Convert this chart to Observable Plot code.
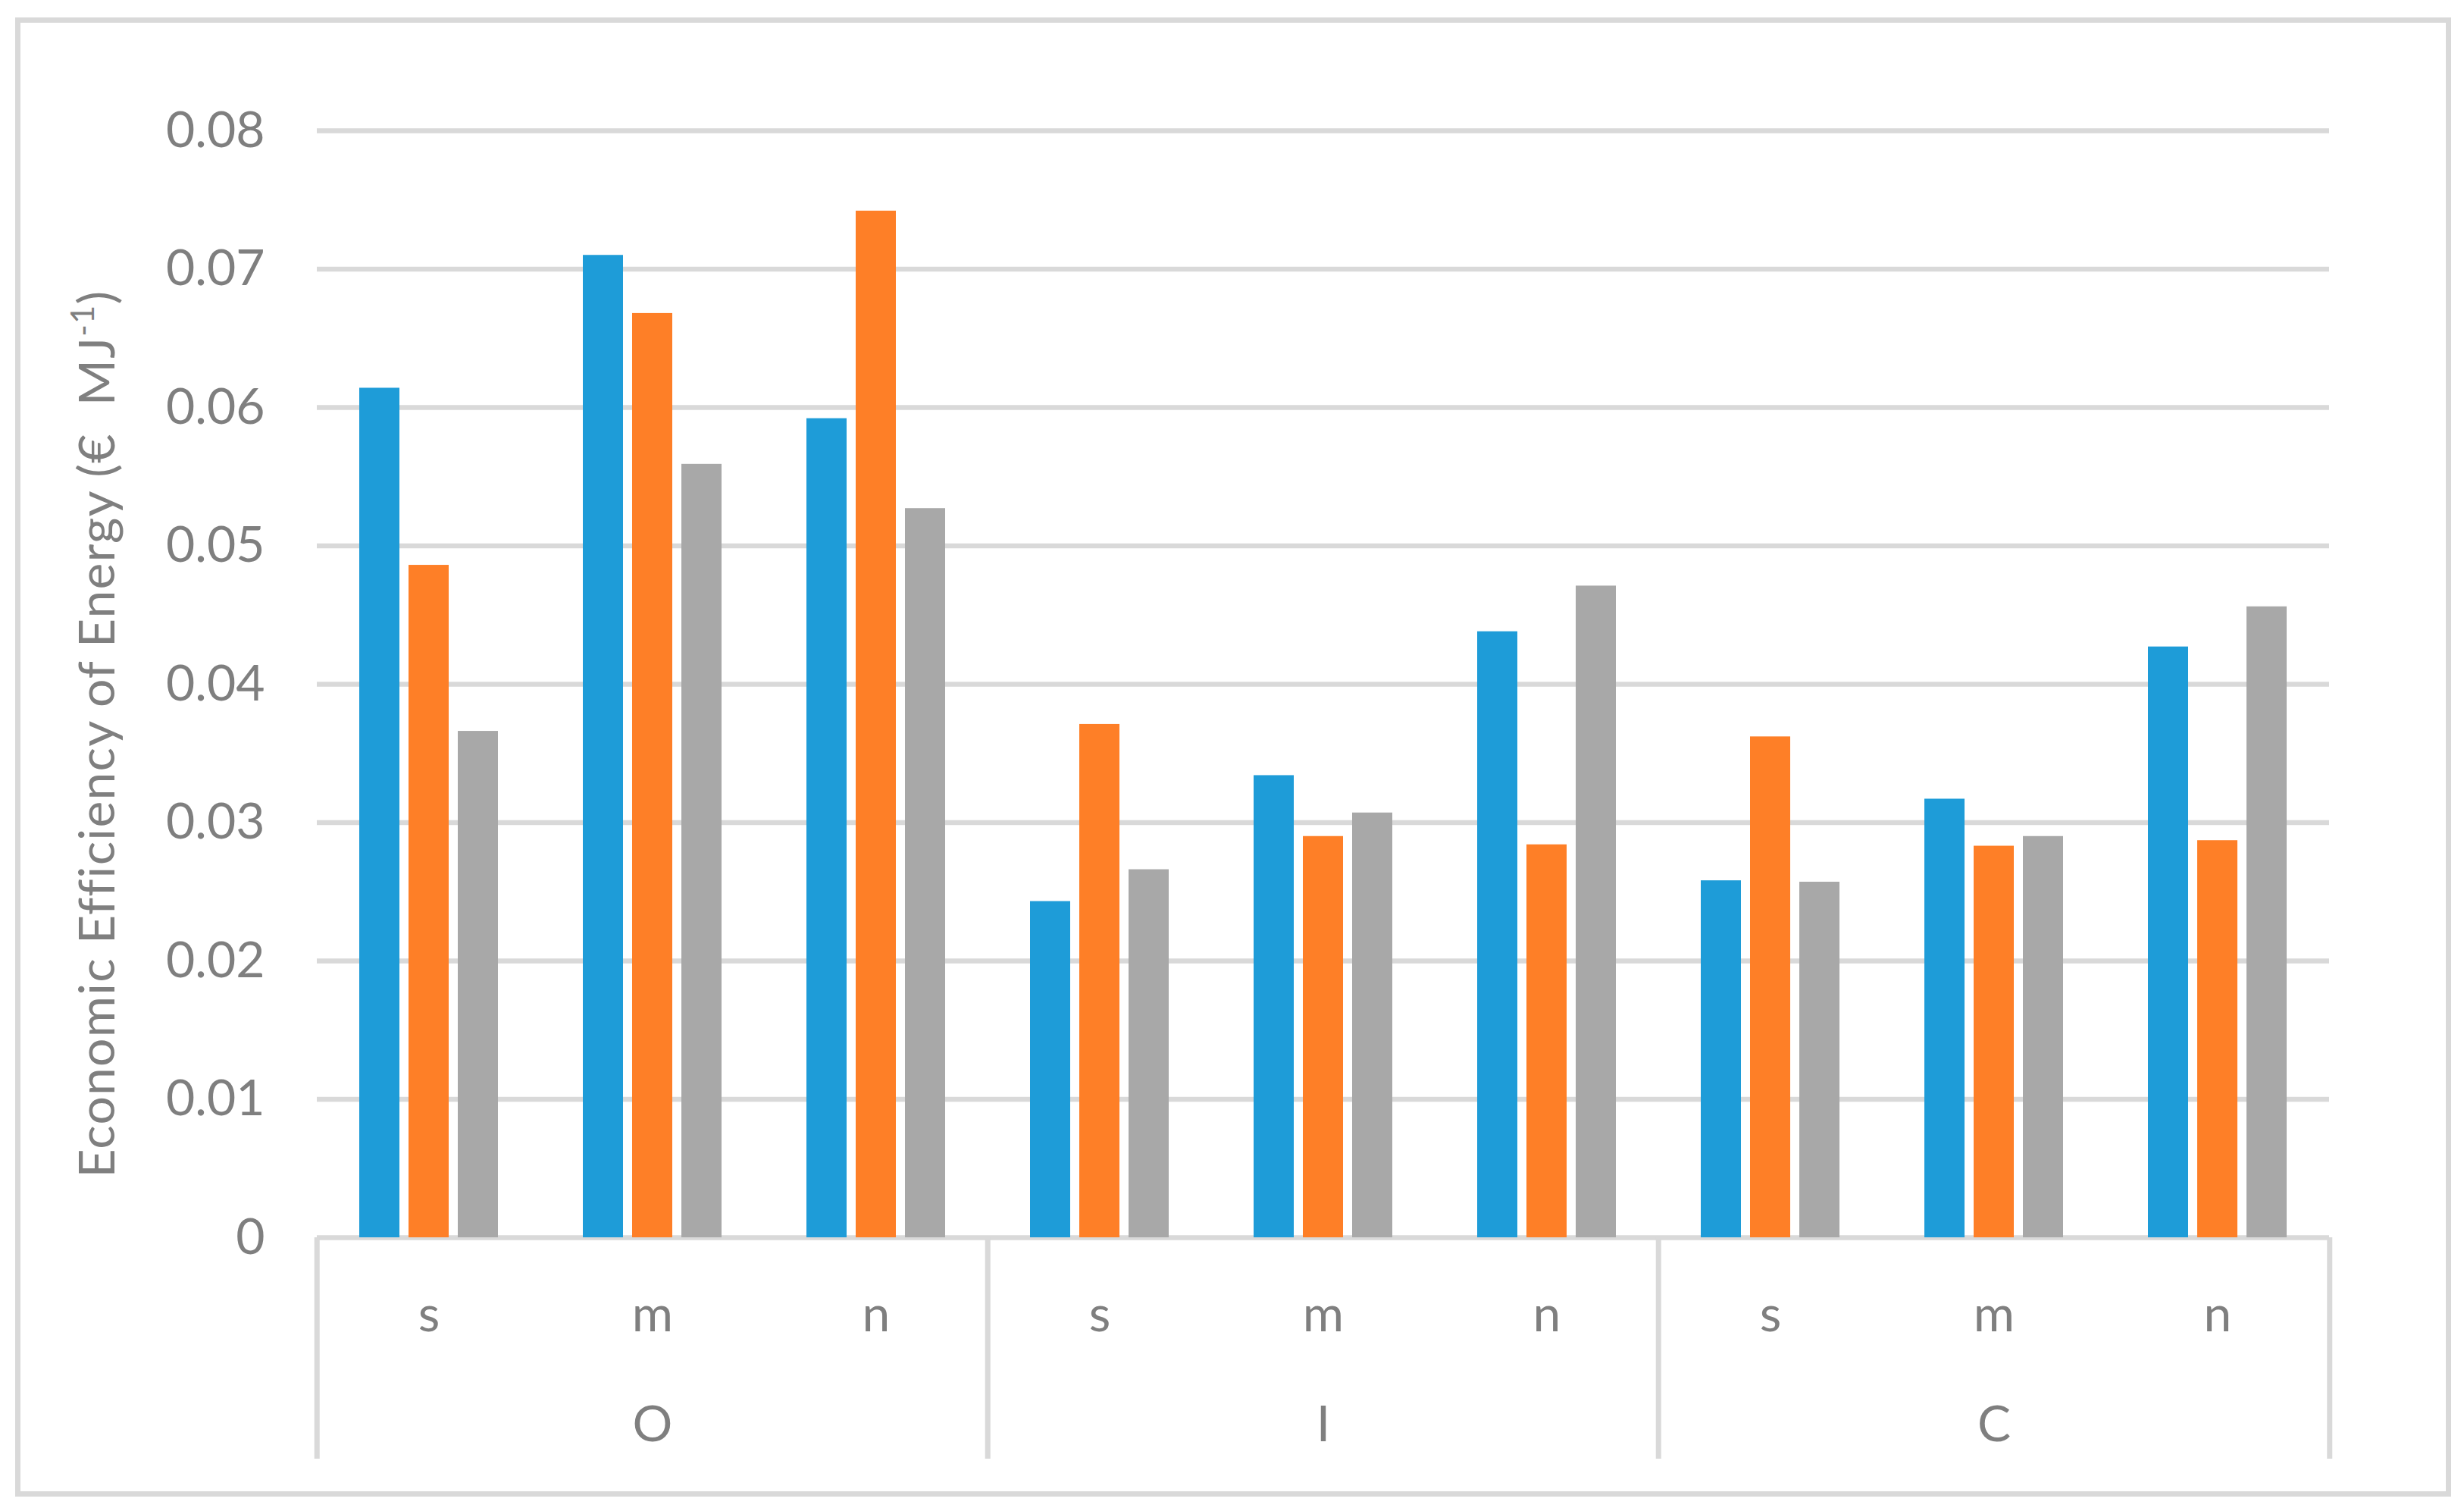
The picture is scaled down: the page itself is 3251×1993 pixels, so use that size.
<!DOCTYPE html>
<html>
<head>
<meta charset="utf-8">
<script src="https://cdn.jsdelivr.net/npm/d3@7"></script>
<script src="https://cdn.jsdelivr.net/npm/@observablehq/plot@0.6"></script>
<style>
  html, body { margin: 0; padding: 0; background: #ffffff; }
  #wrap { position: relative; width: 3251px; height: 1993px; overflow: hidden; }
  #chart { position: absolute; left: 0; top: 0; }
  #border { position: absolute; left: 20px; top: 23px; width: 3214px; height: 1951px;
            box-sizing: border-box; border: 7px solid #d9d9d9; pointer-events: none; }
</style>
</head>
<body>
<div id="wrap"><div id="chart"></div><div id="border"></div></div>
<script>
// ---- data ----
const groups = ["O", "I", "C"];
const subs = ["s", "m", "n"];
const seriesNames = ["Series 1", "Series 2", "Series 3"];
const seriesColors = ["#1e9cd8", "#fe7f27", "#a8a8a8"];
// values in order O-s, O-m, O-n, I-s, I-m, I-n, C-s, C-m, C-n
const series1 = [0.0614, 0.0710, 0.0592, 0.0243, 0.0334, 0.0438, 0.0258, 0.0317, 0.0427];
const series2 = [0.0486, 0.0668, 0.0742, 0.0371, 0.0290, 0.0284, 0.0362, 0.0283, 0.0287];
const series3 = [0.0366, 0.0559, 0.0527, 0.0266, 0.0307, 0.0471, 0.0257, 0.0290, 0.0456];
const yTicks = [0, 0.01, 0.02, 0.03, 0.04, 0.05, 0.06, 0.07, 0.08];
const yTitle = "Economic Efficiency of Energy (€  MJ";
const yTitleSup = "-1";

// ---- table ----
const keys = groups.flatMap(g => subs.map(s => g + "|" + s));
const seriesValues = [series1, series2, series3];
const data = [];
keys.forEach((k, i) => {
  seriesNames.forEach((sn, j) => {
    data.push({key: k, group: k.split("|")[0], sub: k.split("|")[1], series: sn, value: seriesValues[j][i]});
  });
});

// ---- layout / style ----
const W = 3251, H = 1993;
const M = {left: 415, right: 176, top: 172, bottom: 361};
const facetW = (W - M.left - M.right) / keys.length;
const lineColor = "#d9d9d9";
const textColor = "#7f7f7f";
const fontFamily = "Lato, 'Open Sans', sans-serif";
const axisDepth = -0.016; // how far the category separators reach below the baseline, in y units

const firstKeys = groups.map(g => g + "|" + subs[0]);
const middleKeys = groups.map(g => g + "|" + subs[1]);
const lastKey = keys[keys.length - 1];
const midSeries = seriesNames[1]; // centre band of each facet

const plot = Plot.plot({
  width: W,
  height: H,
  marginLeft: M.left,
  marginRight: M.right,
  marginTop: M.top,
  marginBottom: M.bottom,
  style: {fontFamily, fontSize: "66px", color: textColor, background: "#ffffff"},
  fx: {domain: keys, padding: 0, axis: "bottom", label: null, tickSize: 0, tickPadding: 77,
       tickFormat: d => d.split("|")[1]},
  x: {type: "band", domain: seriesNames, paddingInner: 0.19, paddingOuter: 0.85, axis: null},
  y: {domain: [0, 0.08], ticks: yTicks, tickSize: 0, tickPadding: 69, label: null,
      tickFormat: d => d === 0 ? "0" : d.toFixed(2)},
  color: {domain: seriesNames, range: seriesColors},
  marks: [
    Plot.ruleY(yTicks, {stroke: lineColor, strokeWidth: 6.5}),
    Plot.barY(data, {fx: "key", x: "series", y: "value", fill: "series"}),
    Plot.ruleX(firstKeys, {fx: d => d, x: () => midSeries, y1: 0, y2: axisDepth,
      stroke: lineColor, strokeWidth: 7, dx: -facetW / 2}),
    Plot.ruleX([lastKey], {fx: d => d, x: () => midSeries, y1: 0, y2: axisDepth,
      stroke: lineColor, strokeWidth: 7, dx: facetW / 2}),
    Plot.text(middleKeys, {fx: d => d, text: d => d.split("|")[0], frameAnchor: "bottom",
      lineAnchor: "middle", dy: 247, fill: textColor, fontSize: 66})
  ]
});
document.getElementById("chart").appendChild(plot);

// rotated y-axis title with superscript
const svg = d3.select(plot);
const t = svg.append("text")
  .attr("transform", "translate(151,968) rotate(-90)")
  .attr("text-anchor", "middle")
  .attr("fill", textColor)
  .attr("font-family", fontFamily)
  .attr("font-size", 66)
  .attr("letter-spacing", 1.2)
  .style("white-space", "pre");
t.append("tspan").text(yTitle);
t.append("tspan").attr("font-size", 42).attr("dy", -27).text(yTitleSup);
t.append("tspan").attr("dy", 27).text(")");
</script>
</body>
</html>
